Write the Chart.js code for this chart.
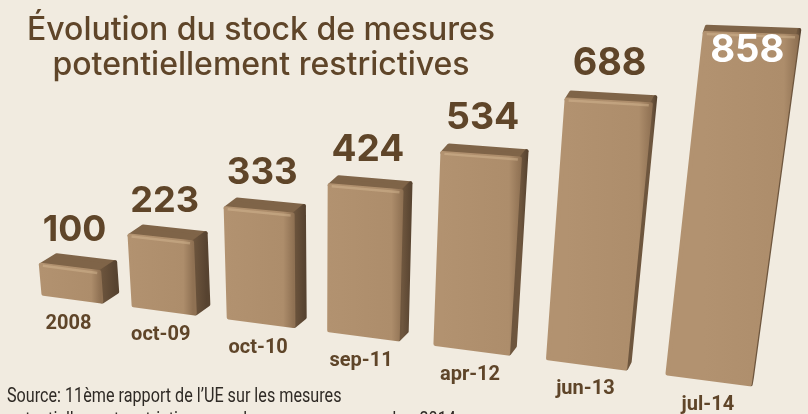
<!DOCTYPE html>
<html>
<head>
<meta charset="utf-8">
<script src="https://cdn.jsdelivr.net/npm/chart.js@4"></script>
<style>
  html, body { margin: 0; padding: 0; background: #f1ebe0; overflow: hidden; }
  #wrap { width: 808px; height: 414px; }
</style>
</head>
<body>
<div id="wrap"><canvas id="stock"></canvas></div>
<script>
const categories = ['2008', 'oct-09', 'oct-10', 'sep-11', 'apr-12', 'jun-13', 'jul-14'];
const stockValues = [100, 223, 333, 424, 534, 688, 858];
const titleLines = ['Évolution du stock de mesures', 'potentiellement restrictives'];
const sourceLines = ['Source: 11ème rapport de l’UE sur les mesures', 'potentiellement restrictives pour le commerce, novembre 2014'];

// the picture is a tilted 3D render: plot rectangle -> this quad on the canvas
const quad = [[28, 293], [772, 388], [822, 36], [3, 8]];
const spread = 0.02; // bars sit a bit further right mid-chart than the quad alone gives

function makeWarp(q) {
  const [[x0, y0], [x1, y1], [x2, y2], [x3, y3]] = q;
  const dx1 = x1 - x2, dx2 = x3 - x2, sx = x0 - x1 + x2 - x3;
  const dy1 = y1 - y2, dy2 = y3 - y2, sy = y0 - y1 + y2 - y3;
  const den = dx1 * dy2 - dx2 * dy1;
  const g = (sx * dy2 - dx2 * sy) / den;
  const h = (dx1 * sy - sx * dy1) / den;
  const a = x1 - x0 + g * x1, b = x3 - x0 + h * x3;
  const d = y1 - y0 + g * y1, e = y3 - y0 + h * y3;
  return (u0, v) => {
    const u = u0 + spread * u0 * (1 - u0);
    const w = g * u + h * v + 1;
    return [(a * u + b * v + x0) / w, (d * u + e * v + y0) / w];
  };
}
const warp = makeWarp(quad);

function poly(ctx, pts) {
  ctx.beginPath();
  pts.forEach((p, i) => i ? ctx.lineTo(p[0], p[1]) : ctx.moveTo(p[0], p[1]));
  ctx.closePath();
}

function face(ctx, pts, fill) {
  poly(ctx, pts);
  ctx.fillStyle = fill;
  ctx.strokeStyle = fill;
  ctx.lineWidth = 4;
  ctx.lineJoin = 'round';
  ctx.fill();
  ctx.stroke();
}

const box3d = {
  id: 'box3d',
  beforeDatasetDraw(chart, args) {
    const { ctx, chartArea: area } = chart;
    const meta = args.meta;
    ctx.save();
    meta.data.forEach((el, i) => {
      const toU = x => (x - area.left) / area.width;
      const toV = y => (area.bottom - y) / area.height;
      const uL = toU(el.x - el.width / 2), uR = toU(el.x + el.width / 2), uC = toU(el.x);
      const vTop = toV(el.y), vBase = toV(el.base);
      const bl = warp(uL, vBase), br = warp(uR, vBase), tr = warp(uR, vTop), tl = warp(uL, vTop);
      const depth = [17 - 16 * uC, -10 + 4 * uC];
      const off = p => [p[0] + depth[0], p[1] + depth[1]];
      const inset = (p, dx, dy) => [p[0] + dx, p[1] + dy];

      ctx.filter = 'blur(0.7px)';
      face(ctx, [inset(tl, 1, 1), inset(tr, -1, 1), inset(off(tr), -1, 1), inset(off(tl), 1, 1)], '#7f6448');

      const sideGrad = ctx.createLinearGradient(tr[0], 0, tr[0] + depth[0], 0);
      sideGrad.addColorStop(0, '#6e563e');
      sideGrad.addColorStop(1, '#574330');
      face(ctx, [inset(tr, 0, 1), inset(br, 0, -1), inset(off(br), -1, -1), inset(off(tr), -1, 1)], sideGrad);

      const grad = ctx.createLinearGradient(tl[0], 0, tr[0], 0);
      grad.addColorStop(0, '#b29270');
      grad.addColorStop(0.85, '#ad8d6b');
      grad.addColorStop(1, '#8f7153');
      face(ctx, [inset(tl, 1, 1), inset(tr, -1, 1), inset(br, -1, -1), inset(bl, 1, -1)], grad);

      // light edge on the top of the front face
      ctx.beginPath();
      ctx.moveTo(tl[0] + 3, tl[1] + 2);
      ctx.lineTo(tr[0] - 3, tr[1] + 2);
      ctx.strokeStyle = 'rgba(214,186,148,0.45)';
      ctx.lineWidth = 2.5;
      ctx.stroke();
      ctx.filter = 'none';

      // value above the box, or inside it if there is no room left
      const top = warp(uC, vTop), bottom = warp(uC, vBase);
      const inside = top[1] - 36 < 15;
      ctx.font = '700 ' + (35.5 + 3 * uC) + 'px Inter, "Open Sans", sans-serif';
      ctx.textAlign = 'center';
      ctx.textBaseline = 'middle';
      ctx.fillStyle = inside ? '#ffffff' : '#5f4529';
      ctx.fillText(stockValues[i], top[0] + (inside ? -3 : depth[0] * 0.3), top[1] + (inside ? 17 : -37));

      ctx.font = '700 20px Roboto, sans-serif';
      ctx.fillStyle = '#5f4529';
      ctx.fillText(categories[i], bottom[0] - 4 + 4 * uC, bottom[1] + 25);
    });
    ctx.restore();
    return false;
  },
  afterDraw(chart) {
    const { ctx } = chart;
    ctx.save();
    ctx.font = '400 21px Roboto, sans-serif';
    ctx.fillStyle = '#2f2a25';
    ctx.textAlign = 'left';
    ctx.textBaseline = 'alphabetic';
    // the source note is set in a condensed face, squeeze it
    ctx.translate(7, 0);
    ctx.scale(0.77, 1);
    sourceLines.forEach((line, i) => ctx.fillText(line, 0, 402 + i * 24));
    ctx.restore();
  }
};

new Chart(document.getElementById('stock'), {
  type: 'bar',
  data: {
    labels: categories,
    datasets: [{ label: 'Stock de mesures', data: stockValues, barPercentage: 0.67, categoryPercentage: 1 }]
  },
  options: {
    responsive: true,
    maintainAspectRatio: false,
    animation: false,
    layout: { padding: { left: 0, right: 286, top: 12, bottom: 0 } },
    scales: {
      x: { display: false },
      y: { display: false, min: 0, max: 858 }
    },
    plugins: {
      legend: { display: false },
      tooltip: { enabled: false },
      title: {
        display: true,
        text: titleLines,
        color: '#5f4529',
        font: { family: 'Inter, "Open Sans", sans-serif', size: 32, weight: '500', lineHeight: 1.12 },
        padding: { top: 0, bottom: 0 }
      }
    }
  },
  plugins: [box3d]
});
</script>
</body>
</html>
